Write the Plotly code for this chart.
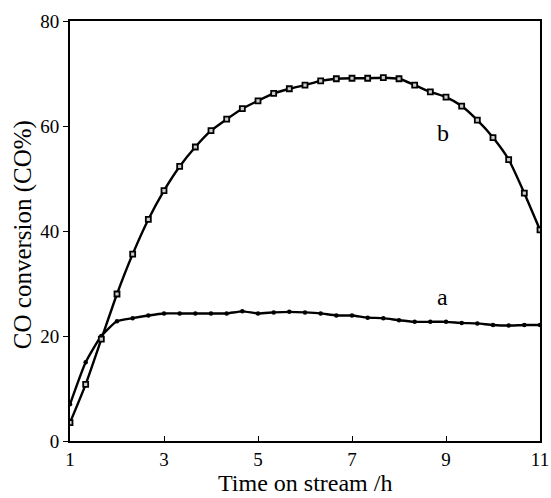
import plotly.graph_objects as go

# Time on stream (h), sampled every 20 min
time_h = [1 + i / 3 for i in range(31)]

# CO conversion (%) for catalyst a
conv_a = [7.0, 15.0, 20.0, 22.8, 23.4, 23.9, 24.3, 24.3, 24.3, 24.3, 24.3,
          24.7, 24.3, 24.5, 24.6, 24.5, 24.3, 23.9, 23.9, 23.5, 23.4,
          23.0, 22.7, 22.7, 22.7, 22.5, 22.4, 22.1, 22.0, 22.1, 22.1]

# CO conversion (%) for catalyst b
conv_b = [3.5, 10.8, 19.4, 28.0, 35.6, 42.2, 47.7, 52.3, 56.0, 59.1, 61.3,
          63.3, 64.8, 66.2, 67.1, 67.8, 68.6, 69.0, 69.1, 69.1, 69.2,
          69.0, 67.8, 66.5, 65.5, 63.8, 61.1, 57.8, 53.6, 47.2, 40.2]

x_ticks = [1, 3, 5, 7, 9, 11]
y_ticks = [0, 20, 40, 60, 80]

curve_labels = ["a", "b"]
label_x = [8.93, 8.93]
label_y = [27.5, 58.6]

FONT = "Liberation Serif, Times New Roman, serif"

fig = go.Figure()
fig.add_trace(go.Scatter(
    x=time_h, y=conv_a, mode="lines+markers",
    line=dict(color="black", width=2.4, shape="spline", smoothing=0.5),
    marker=dict(symbol="circle", size=4.5, color="black"),
    showlegend=False,
))
fig.add_trace(go.Scatter(
    x=time_h, y=conv_b, mode="lines+markers",
    line=dict(color="black", width=2.4, shape="spline", smoothing=0.5),
    marker=dict(symbol="square", size=5, color="#cccccc",
                line=dict(color="black", width=1.8)),
    showlegend=False,
))

for txt, lx, ly in zip(curve_labels, label_x, label_y):
    fig.add_annotation(x=lx, y=ly, text=txt, showarrow=False,
                       font=dict(family=FONT, size=24, color="black"))

# axis titles placed as paper-anchored text so the plot area stays fixed
fig.add_annotation(x=0.5, y=-0.135, xref="paper", yref="paper",
                   text="Time on stream /h", showarrow=False,
                   xanchor="center", yanchor="bottom",
                   font=dict(family=FONT, size=24, color="black"))
fig.add_annotation(x=-0.1, y=0.49, xref="paper", yref="paper",
                   text="CO conversion (CO%)", showarrow=False, textangle=-90,
                   xanchor="center", yanchor="middle",
                   font=dict(family=FONT, size=25, color="black"))

fig.update_xaxes(
    range=[1, 11], tickvals=x_ticks, ticktext=[str(v) for v in x_ticks],
    showline=True, linecolor="black", linewidth=2, mirror=True,
    ticks="inside", ticklen=5, tickwidth=1, tickcolor="black",
    showgrid=False, zeroline=False, automargin=False,
    tickfont=dict(family=FONT, size=19, color="black"),
)
fig.update_yaxes(
    range=[0, 80], tickvals=y_ticks, ticktext=[str(v) for v in y_ticks],
    showline=True, linecolor="black", linewidth=2, mirror=True,
    ticks="outside", ticklen=5, tickwidth=1, tickcolor="black",
    showgrid=False, zeroline=False, automargin=False,
    tickfont=dict(family=FONT, size=19, color="black"),
)

fig.update_layout(
    width=551, height=498,
    margin=dict(l=70, r=11, t=21, b=57),
    plot_bgcolor="white", paper_bgcolor="white",
)

fig.write_html("out.html")
